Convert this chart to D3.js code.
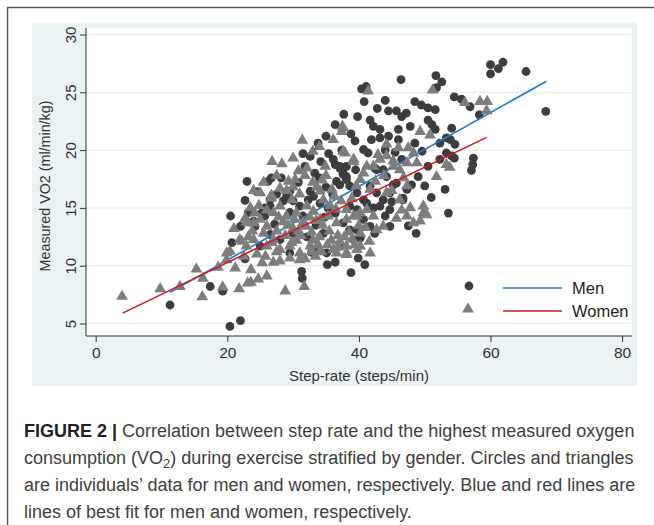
<!DOCTYPE html>
<html lang="en">
<head>
  <meta charset="UTF-8">
  <title>Step rate vs VO2</title>
  <script src="https://cdn.jsdelivr.net/npm/d3@7"></script>
  <style>
    body { margin: 0; background: #fff; }
    text { font-family: "Liberation Sans", Arial, sans-serif; }
  </style>
</head>
<body>
  <svg id="chart"></svg>
  <script>
    // values: [step-rate, VO2]
    const menPoints = [
      [11.3,6.6],[17.4,8.2],[19.3,7.8],[20.4,4.75],[22.0,5.25],[20.5,14.3],[22.7,15.65],[20.7,12.0],[22.7,10.6],
      [31.3,9.5],[31.4,8.9],[35.2,10.1],[36.4,10.3],[38.8,9.4],[29.5,11.1],[32.8,11.15],[39.9,10.65],[50.0,16.9],
      [53.1,16.6],[53.6,14.55],[48.7,12.8],[47.5,13.45],[44.7,13.4],[45.0,15.55],[46.7,15.85],[40.2,12.4],[40.9,10.1],
      [42.2,15.0],[43.7,15.7],[44.7,14.85],[45.2,17.0],[41.2,15.4],
      [60.0,27.4],[61.2,27.05],[61.9,27.6],[60.0,26.6],[65.4,26.8],[68.4,23.35],[54.5,24.6],[55.6,24.4],[56.9,23.75],
      [58.3,23.05],[54.1,21.9],[54.6,20.5],[53.9,20.9],[54.1,19.5],[54.5,19.3],[57.4,19.3],[57.3,18.75],[57.1,18.25],
      [46.4,26.1],[51.7,26.45],[52.6,25.9],[51.8,25.4],[40.4,25.3],[41.1,25.5],[37.7,23.1],[44.5,23.4],[45.7,23.4],
      [46.5,22.9],[48.5,24.2],[49.5,23.9],[50.5,23.65],[51.6,23.5],[50.5,22.6],[51.1,22.2],[51.6,21.8],[41.7,22.6],
      [42.2,22.05],[43.2,21.8],[46.0,21.8],[47.8,22.05],[39.4,20.8],[41.9,20.9],[43.2,21.05],[44.5,21.2],[46.0,20.9],
      [40.7,20.05],[41.4,19.75],[43.7,18.3],[42.4,18.45],[52.3,19.2],[37.6,17.9],[38.1,17.45],[37.4,20.0],[53.3,21.05],
      [52.3,20.6],[53.3,19.75],
      [31.5,19.7],[32.6,19.45],[33.3,18.0],[36.4,18.75],[37.1,18.45],[38.1,18.6],[23.0,17.3],[26.2,17.3],[26.7,17.6],
      [29.5,16.45],[29.0,16.0],[28.5,15.6],[32.6,16.45],[32.3,15.7],[36.6,17.3],[37.1,17.0],[37.6,18.0],
      [24.2,13.4],[25.7,14.3],[26.5,15.15],[30.0,15.6],[31.0,15.15],[33.1,16.0],[34.1,15.4],[35.3,15.0],[36.4,14.55],
      [38.6,15.15],[39.7,14.85],[40.7,14.0],[41.7,13.4],[42.4,12.8],[28.0,12.25],[30.0,12.8],[32.1,12.5],[33.1,11.4],
      [35.1,11.1],[37.1,11.7],[39.2,12.25],
      [44.0,14.3],[43.2,15.15],[40.2,12.5],[38.6,13.1],[37.6,13.7],[36.1,19.2],[37.1,18.6],[38.1,17.7],[38.6,16.9],
      [39.7,16.3],[40.7,15.7],[41.7,16.9],[42.7,16.3],[42.7,18.3],[44.2,17.7],[45.7,17.15],[47.3,16.6],[46.7,15.7],
      [44.7,16.3],[51.0,15.9],
      [25.7,15.0],[26.5,15.7],[25.2,14.55],[24.0,13.85],[25.0,11.7],[34.6,12.8],[39.7,13.1],[33.5,13.5],[34.8,14.2],
      [24.5,16.4],[27.5,16.2],[28.2,17.6],[30.8,17.2],[31.8,18.6],[34.2,19.0],[35.4,19.7],[33.8,20.6],[35.0,21.2],
      [36.4,22.2],[38.8,21.4],[39.8,22.9],[42.8,23.6],[40.8,24.2],[44.0,24.3],[47.2,23.2],[48.5,20.6],[49.6,19.9],
      [50.5,18.6],[49.0,17.7],[48.0,17.0],[46.5,19.2],[45.5,19.8],[44.0,20.0],[39.5,18.3],[36.0,16.2],[35.0,16.8],
      [34.0,17.6],[31.5,14.3],[29.5,14.6],[27.2,13.6],[26.5,12.7],[23.2,14.6],[22.0,13.4]
    ];

    const womenPoints = [
      [4.0,7.34],[9.8,8.0],[12.8,8.2],[15.3,9.7],[16.3,8.9],[16.2,7.3],[18.6,9.85],[19.3,8.15],[21.2,9.8],[21.8,8.0],
      [23.1,8.5],[22.9,13.8],[20.4,11.25],[22.2,12.1],[23.2,12.5],[19.9,10.5],
      [23.6,9.65],[23.6,8.55],[24.7,8.85],[26.0,9.1],[27.0,10.3],[25.3,10.25],[28.8,7.8],[31.7,8.2],[32.8,11.2],
      [34.3,11.2],[36.6,11.1],[38.1,10.95],[39.7,11.4],[31.0,10.5],[29.5,10.65],[28.0,10.4],
      [49.8,14.55],[49.3,13.85],[47.8,15.0],[46.5,14.8],[47.3,14.3],[45.7,14.1],[41.6,12.1],[39.4,11.8],[43.7,13.4],
      [42.7,13.1],[39.2,14.3],[40.2,14.55],[38.1,14.85],[44.2,16.3],[46.2,15.7],[47.3,16.9],[41.7,16.6],
      [56.1,24.1],[58.4,24.2],[59.5,24.2],[59.4,23.4],[53.8,18.5],
      [51.2,25.2],[41.4,25.1],[37.6,21.9],[49.3,21.6],[50.8,21.3],[44.2,20.5],[46.0,20.2],[47.5,20.2],[42.9,19.6],
      [41.2,18.6],[43.2,19.2],[45.2,19.05],[48.8,18.9],[53.3,18.75],[51.8,17.7],[40.2,17.45],[39.2,19.2],[37.6,19.9],
      [31.4,20.85],[36.1,20.9],[37.4,21.6],[37.5,22.05],[37.9,19.75],[30.8,18.2],[32.1,18.45],[34.9,18.6],[25.0,16.3],
      [26.7,15.85],[29.3,17.3],[30.3,17.45],[34.1,16.45],[35.9,16.6],[34.6,15.7],[22.7,14.1],[24.2,14.55],[24.0,13.7],
      [39.2,19.0],[28.0,16.7],[26.7,16.1],[23.2,13.7],[25.0,14.0],[26.0,13.4],[28.0,15.15],[29.0,14.3],[30.5,14.55],
      [32.1,15.15],[33.1,14.7],[34.1,14.0],[35.3,14.3],[36.6,13.7],[38.1,14.0],[39.7,14.3],[41.2,14.85],[42.2,14.3],
      [19.9,11.1],[21.9,12.25],[22.9,11.7],[24.0,12.25],[26.0,11.7],[27.0,12.25],[28.0,11.4],[29.5,11.7],[31.0,11.1],
      [32.6,11.7],[34.1,11.25],[36.1,11.4],[38.1,11.1],[40.2,11.7],[41.7,11.1],
      [49.8,15.15],[50.3,14.4],[48.3,13.7],[40.2,12.8],[38.1,11.7],[37.1,12.1],[40.7,18.0],[42.2,18.6],[44.2,19.5],
      [45.2,18.6],[46.2,18.3],[47.3,18.9],[48.3,19.75],
      [27.5,13.0],[28.5,13.8],[30.0,13.2],[31.5,13.7],[32.8,12.9],[34.0,12.5],[35.5,13.0],[36.8,12.6],[38.5,12.9],
      [30.5,12.2],[33.5,13.9],[27.0,14.6],[31.0,16.2],[29.8,15.7],[33.0,17.2],[35.0,17.8],[36.3,16.0],[27.5,17.8],
      [22.5,10.8],[24.5,11.0],[25.5,12.8],[26.8,12.0],[23.8,13.0],[25.8,10.8],[27.5,11.2],[24.8,15.2],[23.5,15.0],
      [26.0,14.8],[21.0,13.2],[27.8,14.2],[28.8,12.6],
      [29.2,13.5],[30.2,14.0],[31.2,12.6],[32.0,13.4],[33.0,12.2],[34.5,13.5],[35.8,12.2],[29.0,16.5],[30.0,16.8],
      [31.8,17.8],[33.6,16.8],[34.4,17.4],[35.6,15.2],[32.5,14.2],[30.8,13.0],[29.8,12.0],[33.8,11.8],[35.2,11.8],
      [31.8,10.6],[33.4,10.8],
      [36.5,14.9],[37.3,15.6],[38.9,15.8],[40.0,13.5],[41.0,13.3],[36.9,11.6],[39.0,12.3],[37.8,12.5],[39.6,16.9],
      [42.5,17.3],[43.8,17.8],[45.0,16.5],[46.8,17.6],
      [28.3,18.8],[26.8,19.0],[30.0,19.3],[33.0,19.9],[34.0,20.3],[25.5,17.2],[24.0,16.5]
    ];

    // fitted lines, end points
    const menFit = [[11.3, 7.7], [68.5, 25.96]];
    const womenFit = [[4.1, 5.9], [59.4, 21.1]];

    const xTicks = [0, 20, 40, 60, 80];
    const yTicks = [5, 10, 15, 20, 25, 30];
    const legendItems = [
      {label: 'Men', shape: 'circle', color: '#1f7bd1'},
      {label: 'Women', shape: 'triangle', color: '#d11a1f'}
    ];
    const captionLines = [
      [['FIGURE 2 | ', true], ['Correlation between step rate and the highest measured oxygen', false]],
      [['consumption (VO', false], ['2', false, 'sub'], [') during exercise stratified by gender. Circles and triangles', false]],
      [['are individuals\u2019 data for men and women, respectively. Blue and red lines are', false]],
      [['lines of best fit for men and women, respectively.', false]]
    ];

    const W = 654, H = 525;
    const plot = {left: 86, right: 632, top: 28, bottom: 336};
    const circleColor = '#3d3d3d', triColor = '#7d7d7d';

    const svg = d3.select('#chart').attr('width', W).attr('height', H);

    // outer frame
    svg.append('rect').attr('x', 7.5).attr('y', 7.5).attr('width', 700).attr('height', 600)
      .attr('fill', 'none').attr('stroke', '#5a5a5a').attr('stroke-width', 1.5);

    // graph region + plot region
    svg.append('rect').attr('x', 32).attr('y', 23).attr('width', 605).attr('height', 363).attr('fill', '#eaf2f3');
    svg.append('rect').attr('x', plot.left).attr('y', plot.top)
      .attr('width', plot.right - plot.left).attr('height', plot.bottom - plot.top).attr('fill', '#fff');

    const x = d3.scaleLinear().domain([0, 80]).range([95.7, 622.1]);
    const y = d3.scaleLinear().domain([5, 30]).range([323.5, 34.5]);

    // grid
    svg.append('g').selectAll('line').data(yTicks).enter().append('line')
      .attr('x1', plot.left + 1).attr('x2', plot.right)
      .attr('y1', d => y(d)).attr('y2', d => y(d))
      .attr('stroke', '#e8ecec').attr('stroke-width', 1.2);

    // axes
    const yAxis = svg.append('g').attr('transform', `translate(${plot.left},0)`)
      .call(d3.axisLeft(y).tickValues(yTicks).tickSize(6).tickFormat(d3.format('d')));
    yAxis.select('.domain').attr('d', `M0,${plot.top}V${plot.bottom}`).attr('stroke', '#333');
    yAxis.selectAll('.tick line').attr('stroke', '#333');
    yAxis.selectAll('.tick text')
      .attr('x', 0).attr('y', 0).attr('dy', null)
      .attr('transform', 'translate(-10,0) rotate(-90)')
      .attr('text-anchor', 'middle')
      .style('font-size', '15px').attr('fill', '#333');

    const xAxis = svg.append('g').attr('transform', `translate(0,${plot.bottom})`)
      .call(d3.axisBottom(x).tickValues(xTicks).tickSize(6));
    xAxis.select('.domain').attr('d', `M${plot.left},0H${plot.right}`).attr('stroke', '#333');
    xAxis.selectAll('.tick line').attr('stroke', '#333');
    xAxis.selectAll('.tick text').attr('y', 11).style('font-size', '15.5px').attr('fill', '#333');

    svg.append('text').attr('x', (plot.left + plot.right) / 2).attr('y', 381)
      .attr('text-anchor', 'middle').style('font-size', '15px').attr('fill', '#333')
      .text('Step-rate (steps/min)');
    svg.append('text').attr('transform', `translate(50,186) rotate(-90)`)
      .attr('text-anchor', 'middle').style('font-size', '14.3px').attr('fill', '#333')
      .text('Measured VO2 (ml/min/kg)');

    const tri = d3.symbol().type(d3.symbolTriangle).size(60);
    const fitLine = d3.line().x(d => x(d[0])).y(d => y(d[1]));

    // draw order: men scatter, men fit, women scatter, women fit
    svg.append('g').selectAll('circle').data(menPoints).enter().append('circle')
      .attr('cx', d => x(d[0])).attr('cy', d => y(d[1])).attr('r', 4.4).attr('fill', circleColor);
    svg.append('path').datum(menFit).attr('d', fitLine)
      .attr('fill', 'none').attr('stroke', legendItems[0].color).attr('stroke-width', 1.6);
    svg.append('g').selectAll('path').data(womenPoints).enter().append('path')
      .attr('d', tri).attr('transform', d => `translate(${x(d[0])},${y(d[1])})`).attr('fill', triColor);
    svg.append('path').datum(womenFit).attr('d', fitLine)
      .attr('fill', 'none').attr('stroke', legendItems[1].color).attr('stroke-width', 1.6);

    // legend
    const lg = svg.append('g');
    legendItems.forEach((it, i) => {
      const ly = 287 + i * 23;
      if (it.shape === 'circle') {
        lg.append('circle').attr('cx', 469).attr('cy', ly - 1).attr('r', 4.4).attr('fill', circleColor);
      } else {
        lg.append('path').attr('d', tri).attr('transform', `translate(468,${ly - 1})`).attr('fill', triColor);
      }
      lg.append('line').attr('x1', 503).attr('x2', 562).attr('y1', ly + 1).attr('y2', ly + 1)
        .attr('stroke', it.color).attr('stroke-width', 1.6);
      lg.append('text').attr('x', 572).attr('y', ly + 7).style('font-size', '16.5px').attr('fill', '#222')
        .text(it.label);
    });

    // caption
    const cap = svg.append('text').style('font-size', '18px').attr('fill', '#404040');
    captionLines.forEach((line, i) => {
      const baseY = 437 + i * 27;
      line.forEach((part, j) => {
        const t = cap.append('tspan').text(part[0]);
        if (j === 0) t.attr('x', 24).attr('y', baseY);
        if (part[1]) t.style('font-weight', 'bold').attr('fill', '#222');
        if (part[2] === 'sub') t.attr('dy', 4).style('font-size', '13px');
        if (j > 0 && line[j - 1][2] === 'sub') t.attr('dy', -4);
      });
    });
  </script>
</body>
</html>
